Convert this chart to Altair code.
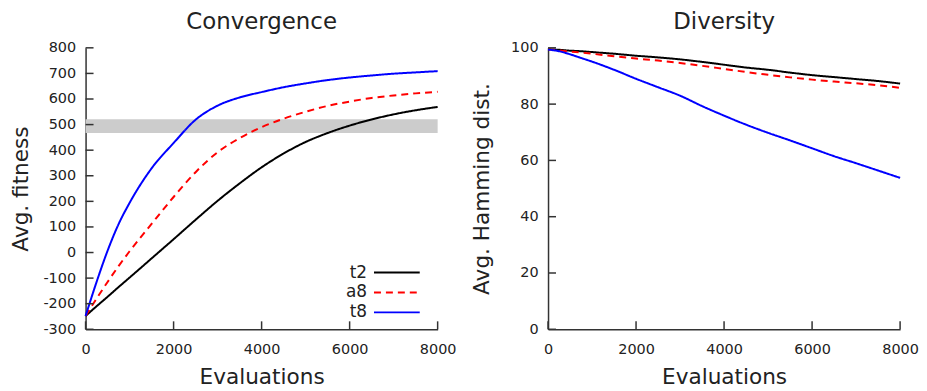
import altair as alt
import pandas as pd

# ---------------- data ----------------
evals = [0, 250, 500, 750, 1000, 1500, 2000, 2500, 3000, 3500, 4000,
         4500, 5000, 5500, 6000, 6500, 7000, 7500, 8000]
series = ["t2", "a8", "t8"]
colors = ["#000000", "#ff0000", "#0000ff"]
dashes = [[1, 0], [7, 5], [1, 0]]

fit_t2 = [-248, -210, -173, -135, -98, -23, 52, 128, 202, 270, 333,
          387, 432, 467, 496, 520, 540, 556, 569]
fit_a8 = [-248, -180, -115, -53, 5, 112, 217, 314, 392, 447, 490,
          523, 550, 573, 590, 604, 614, 622, 628]
fit_t8 = [-248, -115, 7, 111, 194, 329, 428, 519, 574, 606, 627,
          646, 661, 674, 684, 692, 699, 704, 709]

div_t2 = [99.5, 99.3, 99.0, 98.8, 98.5, 97.9, 97.2, 96.6, 95.9, 95.0, 94.0,
          93.0, 92.2, 91.2, 90.3, 89.6, 88.9, 88.2, 87.3]
div_a8 = [99.5, 99.1, 98.7, 98.3, 97.9, 97.0, 96.2, 95.5, 94.6, 93.6, 92.5,
          91.4, 90.4, 89.5, 88.7, 88.0, 87.4, 86.7, 85.8]
div_t8 = [99.4, 98.8, 97.7, 96.4, 95.1, 92.2, 89.0, 86.0, 83.0, 79.3, 75.9,
          72.7, 69.8, 67.1, 64.3, 61.5, 59.0, 56.4, 53.8]

band_x = [0, 8000]
band_y = [467, 521]

x_ticks = [0, 2000, 4000, 6000, 8000]
fit_ticks = [-300, -200, -100, 0, 100, 200, 300, 400, 500, 600, 700, 800]
div_ticks = [0, 20, 40, 60, 80, 100]

# ---------------- tables ----------------
def long_table(vals):
    rows = []
    for s, v in zip(series, vals):
        for e, y in zip(evals, v):
            rows.append({"evals": e, "value": y, "series": s})
    return pd.DataFrame(rows)

fit_df = long_table([fit_t2, fit_a8, fit_t8])
div_df = long_table([div_t2, div_a8, div_t8])

W, H = 354, 283
FONT = "DejaVu Sans"
TXT = "#222222"
AX = "#333333"

xscale = alt.Scale(domain=[0, 8000], nice=False, zero=False)


def panel(df, ydomain, yticks, title, ytitle, ytitle_pad, with_band=False, with_legend=False):
    yscale = alt.Scale(domain=ydomain, nice=False, zero=False)
    xaxis = alt.Axis(values=x_ticks, ticks=False, grid=False, labelExpr="'' + datum.value",
                     labelFont=FONT, labelFontSize=14.5, labelColor=TXT, labelPadding=13,
                     labelFlush=False, labelOverlap=False,
                     title="Evaluations", titleFont=FONT, titleFontSize=21.7,
                     titleFontWeight="normal", titleColor=TXT, titlePadding=11,
                     domainColor=AX, domainWidth=1.5)
    yaxis = alt.Axis(values=yticks, ticks=False, grid=False, labelExpr="'' + datum.value",
                     labelFont=FONT, labelFontSize=14.5, labelColor=TXT, labelPadding=10,
                     labelFlush=False, labelOverlap=False,
                     title=ytitle, titleFont=FONT, titleFontSize=21.7,
                     titleFontWeight="normal", titleColor=TXT, titlePadding=ytitle_pad,
                     domainColor=AX, domainWidth=1.5)

    layers = []
    if with_band:
        bdf = pd.DataFrame({"x0": [band_x[0]], "x1": [band_x[1]],
                            "y0": [band_y[0]], "y1": [band_y[1]]})
        layers.append(alt.Chart(bdf).mark_rect(color="#cccccc").encode(
            x=alt.X("x0:Q", scale=xscale, axis=xaxis), x2="x1:Q",
            y=alt.Y("y0:Q", scale=yscale, axis=yaxis), y2="y1:Q"))

    lines = alt.Chart(df).mark_line(strokeWidth=2, interpolate="monotone").encode(
        x=alt.X("evals:Q", scale=xscale, axis=xaxis),
        y=alt.Y("value:Q", scale=yscale, axis=yaxis),
        color=alt.Color("series:N", scale=alt.Scale(domain=series, range=colors), legend=None),
        strokeDash=alt.StrokeDash("series:N", scale=alt.Scale(domain=series, range=dashes), legend=None),
    )
    layers.append(lines)

    # inward ticks (gnuplot style)
    ytick_df = pd.DataFrame({"v": yticks})
    layers.append(alt.Chart(ytick_df).mark_tick(
        color=AX, orient="horizontal", size=8, thickness=1.5, opacity=1).encode(
        y=alt.Y("v:Q", scale=yscale, axis=yaxis), x=alt.value(4)))
    xtick_df = pd.DataFrame({"v": x_ticks})
    layers.append(alt.Chart(xtick_df).mark_tick(
        color=AX, orient="vertical", size=8, thickness=1.5, opacity=1).encode(
        x=alt.X("v:Q", scale=xscale, axis=xaxis), y=alt.value(H - 4)))

    if with_legend:
        for i, s in enumerate(series):
            ldf = pd.DataFrame({"label": [s]})
            layers.append(alt.Chart(ldf).mark_text(
                align="right", baseline="middle", font=FONT, fontSize=17, color=TXT).encode(
                text="label:N", x=alt.value(283), y=alt.value(226 + 20 * i)))
            layers.append(alt.Chart(ldf).mark_rule(
                color=colors[i], strokeWidth=2, strokeDash=dashes[i]).encode(
                x=alt.value(290), x2=alt.value(336), y=alt.value(226 + 20 * i)))

    return alt.layer(*layers).properties(
        width=W, height=H,
        title=alt.TitleParams(title, font=FONT, fontSize=23, fontWeight="normal",
                              color=TXT, anchor="middle", offset=6))


left = panel(fit_df, [-300, 800], fit_ticks, "Convergence", "Avg. fitness", 10.5,
             with_band=True, with_legend=True)
right = panel(div_df, [0, 100], div_ticks, "Diversity", "Avg. Hamming dist.", 17)

chart = alt.hconcat(left, right, spacing=15).properties(
    padding={"left": 2, "top": 2, "right": 0, "bottom": 0},
    background="white",
).configure_view(stroke=None)

chart.save("out.html", embed_options={"renderer": "svg", "actions": False})
